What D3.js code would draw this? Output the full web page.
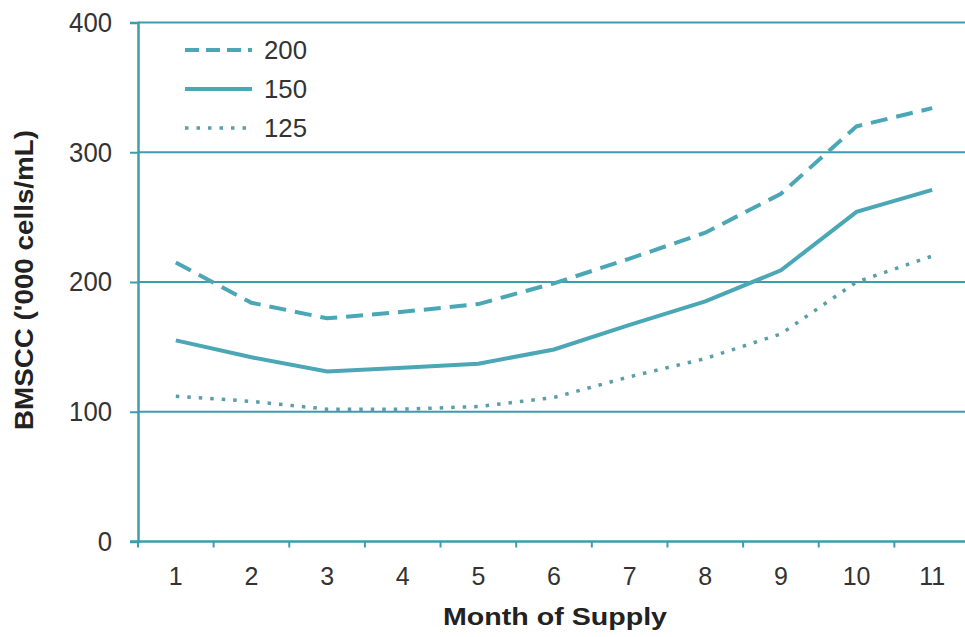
<!DOCTYPE html>
<html><head><meta charset="utf-8">
<script src="https://cdn.jsdelivr.net/npm/d3@7"></script>
<style>body{margin:0;background:#fff;} svg{display:block;font-family:"Liberation Sans",Arial,sans-serif;}</style>
</head><body>
<svg id="c" width="965" height="637"></svg>
<script>
const months = ["1","2","3","4","5","6","7","8","9","10","11"];
const s200 = [215,184,172,177,183,199,218,238,268,320,334];
const s150 = [155,142,131,134,137,148,167,185,209,254,271];
const s125 = [112,108,102,102,104,111,127,141,160,200,220];
const seriesNames = ["200","150","125"];
const yTicks = [0,100,200,300,400];

const svg = d3.select("#c");
const L = 138, R = 970, T = 22.5, B = 541.5;
const x = d3.scaleBand().domain(months).range([L, R]);
const y = d3.scaleLinear().domain([0,400]).range([B, T]);
const teal = "#4ba6b6", grid = "#3f9cad";

// gridlines
svg.append("g").selectAll("line").data(yTicks.filter(d=>d>0)).join("line")
  .attr("x1", L).attr("x2", 965).attr("y1", d=>y(d)).attr("y2", d=>y(d))
  .attr("stroke", grid).attr("stroke-width", 2);

// y axis
const ya = svg.append("g").attr("transform",`translate(${L},0)`)
  .call(d3.axisLeft(y).tickValues(yTicks).tickSize(8).tickPadding(18));
ya.select(".domain").attr("stroke", grid).attr("stroke-width", 2.5);
ya.selectAll(".tick line").attr("stroke", grid).attr("stroke-width", 2);
ya.selectAll("text").attr("font-size", 28).attr("fill", "#333")
  .attr("textLength", d => String(d).length * 14.3).attr("lengthAdjust", "spacingAndGlyphs");

// x axis
const xa = svg.append("g").attr("transform",`translate(0,${B})`)
  .call(d3.axisBottom(x).tickSize(0).tickPadding(26));
xa.select(".domain").remove();
svg.append("line").attr("x1", L-8).attr("x2", 965).attr("y1", B).attr("y2", B)
  .attr("stroke", grid).attr("stroke-width", 2.5);
const bounds = months.map((m,i)=>L + i*x.bandwidth());
svg.append("g").selectAll("line").data(bounds).join("line")
  .attr("x1", d=>d).attr("x2", d=>d).attr("y1", B).attr("y2", B+6)
  .attr("stroke", grid).attr("stroke-width", 2);
xa.selectAll("text").attr("font-size", 25).attr("fill", "#333");

// lines
const line = d3.line().x((d,i)=>x(months[i]) + x.bandwidth()/2).y(d=>y(d));
const styles = [
  {data:s200, dash:"17,9", w:4, col:teal},
  {data:s150, dash:null, w:4, col:teal},
  {data:s125, dash:"3.5,8", w:3.5, col:"#5a9eaa"}
];
styles.forEach(s=>{
  svg.append("path").attr("d", line(s.data)).attr("fill","none")
    .attr("stroke", s.col).attr("stroke-width", s.w)
    .attr("stroke-dasharray", s.dash);
});

// legend
const leg = svg.append("g");
styles.forEach((s,i)=>{
  const yy = 50 + i*39;
  leg.append("line").attr("x1",185).attr("x2",252).attr("y1",yy).attr("y2",yy)
    .attr("stroke", s.col).attr("stroke-width", s.w).attr("stroke-dasharray", s.dash ? (i===0?"14,7":"3.5,8") : null);
  leg.append("text").attr("x",264).attr("y",yy+9).attr("font-size",25).attr("fill","#333")
    .attr("textLength", 43).attr("lengthAdjust","spacingAndGlyphs").text(seriesNames[i]);
});

// axis titles
svg.append("text").attr("x", 555).attr("y", 625).attr("text-anchor","middle")
  .attr("font-size", 24).attr("font-weight","bold").attr("fill","#222")
  .attr("textLength", 224).attr("lengthAdjust","spacingAndGlyphs").text("Month of Supply");
svg.append("text").attr("transform","translate(33,280) rotate(-90)").attr("text-anchor","middle")
  .attr("font-size", 25).attr("font-weight","bold").attr("fill","#222")
  .attr("textLength", 300).attr("lengthAdjust","spacingAndGlyphs").text("BMSCC ('000 cells/mL)");
</script>
</body></html>
